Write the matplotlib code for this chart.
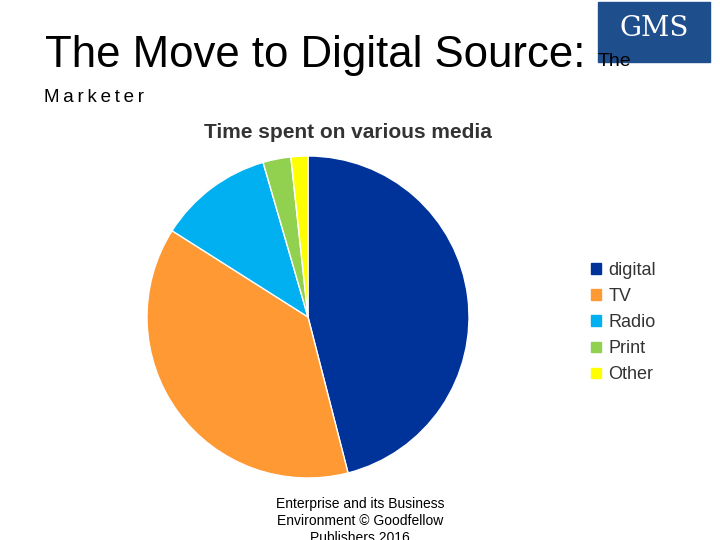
import matplotlib.pyplot as plt
from matplotlib.patches import Rectangle, Patch

labels = ['digital', 'TV', 'Radio', 'Print', 'Other']
shares = [46.0, 38.0, 11.5, 2.8, 1.7]
colors = ['#003399', '#FF9933', '#00B0F0', '#92D050', '#FFFF00']

plt.rcParams['font.family'] = ['Liberation Sans', 'DejaVu Sans']

fig = plt.figure(figsize=(7.2, 5.4), dpi=100)
ax = fig.add_axes([0, 0, 1, 1])
ax.set_xlim(0, 720)
ax.set_ylim(0, 540)
ax.set_aspect('equal')
ax.axis('off')

ax.pie(shares, colors=colors, startangle=90, counterclock=False,
       center=(308, 223), radius=161, wedgeprops=dict(linewidth=1, edgecolor='white'))
ax.set_xlim(0, 720)
ax.set_ylim(0, 540)

# header
fig.text(45 / 720, 1 - 55 / 540, 'The Move to Digital Source:', fontsize=31.5, va='center')
fig.text(598 / 720, 1 - 62 / 540, 'The', fontsize=14, va='center')
fig.text(44 / 720, 1 - 97 / 540, '\u2009'.join('Marketer'), fontsize=13.5, va='center')
fig.text(348 / 720, 1 - 132 / 540, 'Time spent on various media', fontsize=15, fontweight='bold',
         ha='center', va='center', color='#333333')

# logo
ax.add_patch(Rectangle((598, 540 - 62), 112, 60, color='#1F4E8C'))
ax.text(654, 540 - 28, 'GMS', fontsize=20, color='white', ha='center', va='center', family='DejaVu Serif')

handles = [Patch(color=c) for c in colors]
fig.legend(handles, labels, loc='upper left', bbox_to_anchor=(575 / 720, 1 - 246 / 540),
           frameon=False, fontsize=13, handlelength=0.55, handleheight=0.55,
           handletextpad=0.4, labelspacing=0.5, labelcolor='#333333')

fig.text(360 / 720, 1 - 504 / 540, 'Enterprise and its Business', fontsize=10, ha='center', va='center')
fig.text(360 / 720, 1 - 521 / 540, 'Environment © Goodfellow', fontsize=10, ha='center', va='center')
fig.text(360 / 720, 1 - 538 / 540, 'Publishers 2016', fontsize=10, ha='center', va='center')

fig.savefig('out.png', dpi=100)
